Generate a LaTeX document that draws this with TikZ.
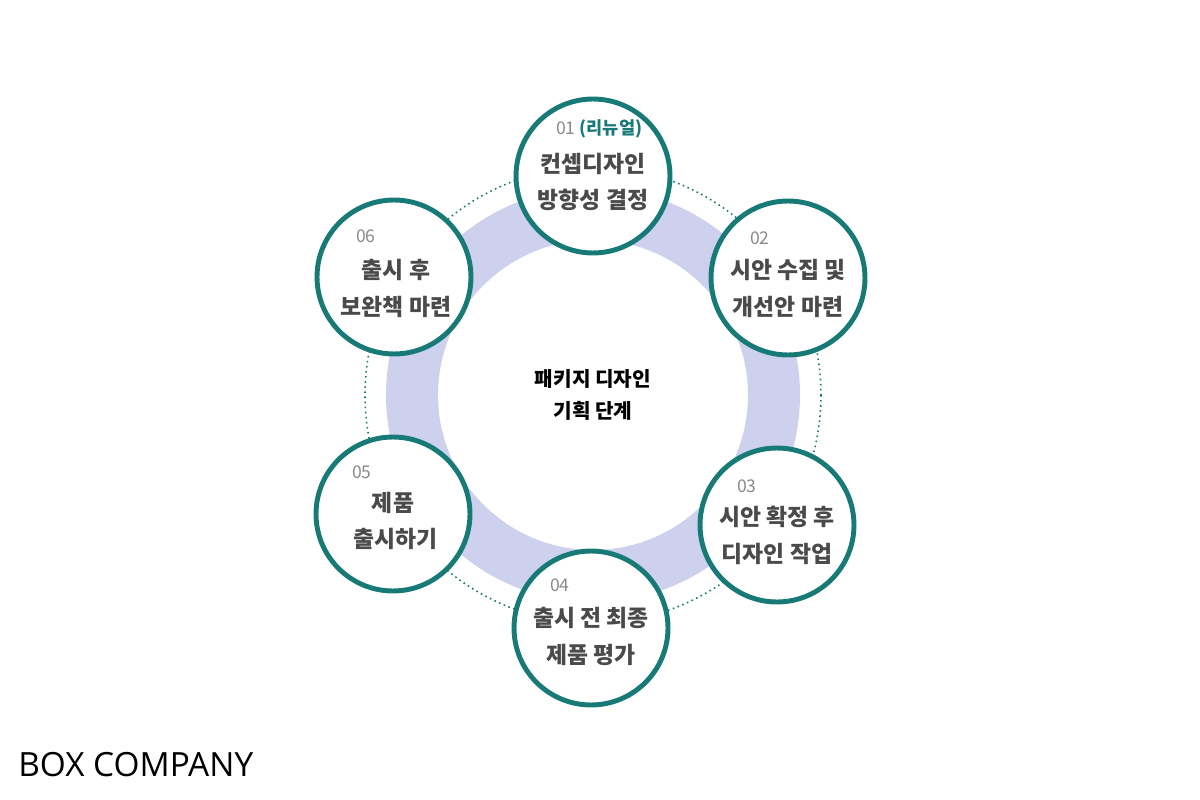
\documentclass[tikz,border=0pt]{standalone}
\usepackage{fontspec}
\setmainfont{Noto Sans CJK KR}
\newfontfamily\boxfont{Open Sans}
\definecolor{tealc}{HTML}{177A76}
\definecolor{ringc}{HTML}{CDD1EE}
\definecolor{numc}{HTML}{8A8A8A}
\definecolor{txtc}{HTML}{4A4A4A}
\begin{document}
\begin{tikzpicture}[x=0.02cm,y=-0.02cm,
    step node/.style={circle,draw=tealc,line width=2.8pt,fill=white,minimum size=3.08cm,inner sep=0pt},
    step text/.style={align=center,font=\fontsize{13}{21}\selectfont\bfseries,text=txtc},
    num/.style={font=\fontsize{10}{11}\selectfont,text=numc}]
  \useasboundingbox (0,0) rectangle (1200,800);
  % ring and dotted orbit
  \coordinate (c) at (593,395);
  \draw[ringc,line width=1.04cm] (c) circle (181);
  \draw[tealc,dotted,line width=0.9pt] (c) circle (228);

  \node[step node] (s1) at (593,176) {};
  \node[step node] (s2) at (788,278) {};
  \node[step node] (s3) at (777,525) {};
  \node[step node] (s4) at (591,628) {};
  \node[step node] (s5) at (393,514) {};
  \node[step node] (s6) at (394,277) {};

  \node[num,anchor=west] (n1) at (550,129) {01 \textcolor{tealc}{\bfseries(리뉴얼)}};
  \node[step text] (t1) at (593,182) {컨셉디자인\\방향성 결정};
  \node[num,anchor=west] (n2) at (744,238) {02};
  \node[step text] (t2) at (788,288) {시안 수집 및\\개선안 마련};
  \node[num,anchor=west] (n3) at (731,486) {03};
  \node[step text] (t3) at (777,535) {시안 확정 후\\디자인 작업};
  \node[num,anchor=west] (n4) at (544,585) {04};
  \node[step text] (t4) at (591,636) {출시 전 최종\\제품 평가};
  \node[num,anchor=west] (n5) at (346,472) {05};
  \node[step text] (t5) at (393,521) {제품\\\ 출시하기};
  \node[num,anchor=west] (n6) at (350,236) {06};
  \node[step text] (t6) at (396,288) {출시 후\\보완책 마련};

  \node[align=center,font=\fontsize{11.5}{18}\selectfont\bfseries] (center) at (c) {패키지 디자인\\기획 단계};
  \node[anchor=west,font=\boxfont\fontsize{19}{22}\selectfont,text=black,inner sep=0pt] (logo) at (18,765) {BOX COMPANY};
\end{tikzpicture}
\end{document}
